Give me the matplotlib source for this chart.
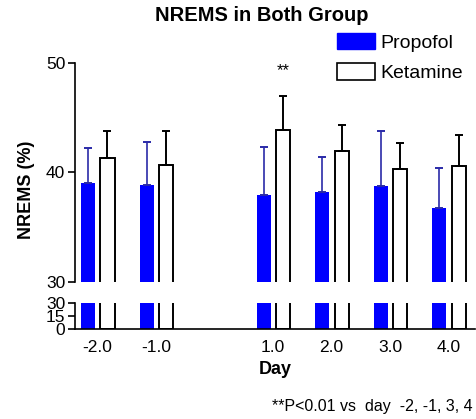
import matplotlib
matplotlib.use("Agg")
import matplotlib.pyplot as plt
from matplotlib.patches import Patch

plt.rcParams['font.family'] = ['Liberation Sans', 'DejaVu Sans']

# data
days = [-2, -1, 1, 2, 3, 4]
day_labels = ['-2.0', '-1.0', '1.0', '2.0', '3.0', '4.0']
propofol_mean = [39.05, 38.9, 37.9, 38.2, 38.8, 36.8]
propofol_err = [3.2, 3.9, 4.4, 3.2, 5.0, 3.65]
ketamine_mean = [41.3, 40.65, 43.85, 41.95, 40.3, 40.55]
ketamine_err = [2.5, 3.15, 3.1, 2.35, 2.4, 2.9]

W, H = 477, 419
fig = plt.figure(figsize=(W / 100, H / 100), dpi=100)

# broken y axis: upper part 30-50, lower part 0-30 squeezed
ax_top = fig.add_axes([75 / W, 1 - 282 / H, 400 / W, 219 / H])
ax_bot = fig.add_axes([75 / W, 1 - 329 / H, 400 / W, 26.5 / H])

width = 0.24
off_p = -0.16
off_k = 0.17
blue = '#0000ff'
err_blue = '#2a2aa8'

for ax in (ax_top, ax_bot):
    xp = [d + off_p for d in days]
    xk = [d + off_k for d in days]
    ax.bar(xp, propofol_mean, width=width, color=blue, edgecolor=blue, linewidth=0)
    ax.bar(xk, ketamine_mean, width=width, color='white', edgecolor='black', linewidth=1.4)
    ax.errorbar(xp, propofol_mean, yerr=[[0] * len(days), propofol_err], fmt='none',
                ecolor=err_blue, elinewidth=1.2, capsize=3, capthick=1.4)
    ax.errorbar(xk, ketamine_mean, yerr=[[0] * len(days), ketamine_err], fmt='none',
                ecolor='black', elinewidth=1.4, capsize=3, capthick=1.4)
    ax.set_xlim(-2.385, 4.45)
    ax.spines['top'].set_visible(False)
    ax.spines['right'].set_visible(False)
    ax.spines['left'].set_linewidth(1.2)
    ax.tick_params(axis='y', direction='out', length=5, width=1.2, labelsize=12.5, pad=2)

ax_top.set_ylim(30, 50)
ax_top.set_yticks([30, 40, 50])
ax_top.spines['bottom'].set_visible(False)
ax_top.set_xticks([])

ax_bot.set_ylim(0, 30)
ax_bot.set_yticks([0, 15, 30])
ax_bot.spines['bottom'].set_linewidth(1.2)
ax_bot.set_xticks(days)
ax_bot.set_xticklabels(day_labels)
ax_bot.tick_params(axis='x', length=0, labelsize=12.5, pad=8)
ax_bot.set_xlabel('Day', fontsize=13, fontweight='bold', labelpad=4)

fig.text(0.055, 1 - 190 / H, 'NREMS (%)', rotation=90, ha='center', va='center',
         fontsize=13, fontweight='bold')
fig.suptitle('NREMS in Both Group', x=262 / W, y=1 - 6 / H, va='top',
             fontsize=14.5, fontweight='bold')

ax_top.text(1 + off_k, 49.3, '**', ha='center', va='center', fontsize=12)

handles = [Patch(facecolor=blue, edgecolor=blue),
           Patch(facecolor='white', edgecolor='black', linewidth=1.2)]
fig.legend(handles, ['Propofol', 'Ketamine'], loc='upper left',
           bbox_to_anchor=(337 / W, 1 - 33 / H), frameon=False, fontsize=14,
           handlelength=1.95, handleheight=0.9, handletextpad=0.3, labelspacing=0.6,
           borderpad=0, borderaxespad=0)

fig.text(473 / W, 1 - 406 / H, '**P<0.01 vs  day  -2, -1, 3, 4', ha='right', va='center',
         fontsize=11.5)

fig.savefig('out.png', dpi=100)
